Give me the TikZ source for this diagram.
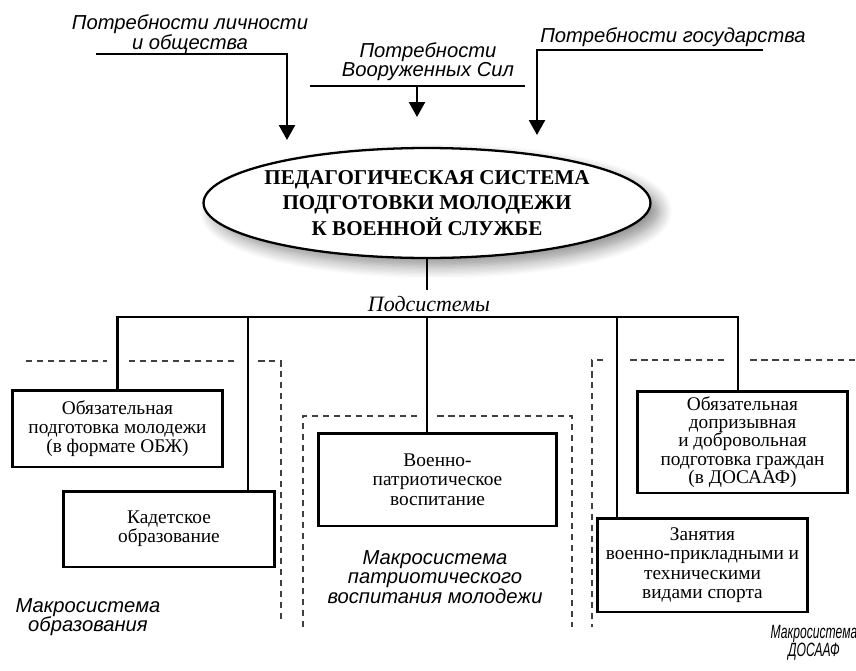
\documentclass[tikz,border=0pt]{standalone}
\usepackage{fontspec}
\setmainfont{Liberation Serif}
\newfontfamily\labelsans{Liberation Sans}
\usetikzlibrary{arrows.meta,shapes.geometric,shadows.blur}

\begin{document}
\begin{tikzpicture}[x=0.02cm,y=-0.02cm,
    conn/.style={line width=1.4pt},
    arr/.style={line width=1.4pt,-{Triangle[width=0.32cm,length=0.3cm]}},
    box/.style={draw,line width=1.7pt,fill=white,align=center,inner sep=2pt,
        font=\fontsize{11}{11}\selectfont},
    dashline/.style={line width=0.7pt,black!75,dash pattern=on 0.13cm off 0.09cm},
    need/.style={align=center,font=\labelsans\itshape\fontsize{11.5}{11}\selectfont},
    macro/.style={need}]
    \useasboundingbox (0,0) rectangle (856,670);

    \node[need] (needL) at (190,34) {Потребности личности\\и общества};
    \node[need] (needM) at (428,62) {Потребности\\Вооруженных Сил};
    \node[need] (needR) at (673,37) {Потребности государства};
    \coordinate (lA) at (96,54);
    \coordinate (lB) at (287,140);
    \coordinate (mA) at (310,86);
    \coordinate (mB) at (525,86);
    \coordinate (mC) at (417,86);
    \coordinate (mD) at (417,117);
    \coordinate (rA) at (763,50);
    \coordinate (rB) at (537,135);
    \draw[arr] (lA) -| (lB);
    \draw[conn] (mA) -- (mB);
    \draw[arr] (mC) -- (mD);
    \draw[arr] (rA) -| (rB);

    \node[ellipse,draw,line width=1.3pt,fill=white,inner xsep=-0.15cm,inner ysep=0pt,
        minimum width=8.94cm,minimum height=2.2cm,align=center,
        font=\bfseries\fontsize{12}{14.3}\selectfont,
        blur shadow={shadow xshift=0.18cm,shadow yshift=-0.16cm,shadow blur radius=0.25cm,
            shadow opacity=45,shadow blur steps=10}]
        (sys) at (427,203) {ПЕДАГОГИЧЕСКАЯ СИСТЕМА\\ПОДГОТОВКИ МОЛОДЕЖИ\\К ВОЕННОЙ СЛУЖБЕ};
    \node[font=\itshape\fontsize{12.5}{12}\selectfont] (sub) at (429,304) {Подсистемы};
    \draw[conn] (sys.south) -- (sys.south |- sub.north);

    \draw[dashline] (26,361) -- (107,361);
    \draw[dashline] (129,361) -- (238,361);
    \draw[dashline] (258,361) -- (281,361) -- (281,620);
    \draw[dashline] (303,627) -- (303,416) -- (417,416);
    \draw[dashline] (437,416) -- (572,416) -- (572,627);
    \draw[dashline] (603,360) -- (592,360) -- (592,627);
    \draw[dashline] (630,360) -- (728,360);
    \draw[dashline] (750,360) -- (856,360);

    \node[box,minimum width=4.22cm,minimum height=1.54cm] (b1) at (117.5,428.5)
        {Обязательная\\подготовка молодежи\\(в формате ОБЖ)};
    \node[box,minimum width=4.24cm,minimum height=1.52cm] (b2) at (169,529)
        {Кадетское\\образование};
    \node[box,minimum width=4.78cm,minimum height=1.86cm] (b3) at (437.5,479.5)
        {Военно-\\патриотическое\\воспитание};
    \node[box,minimum width=4.22cm,minimum height=2.04cm,
        font=\fontsize{11}{10.4}\selectfont] (b4) at (742.5,442)
        {Обязательная\\допризывная\\и добровольная\\подготовка граждан\\(в ДОСААФ)};
    \node[box,minimum width=4.22cm,minimum height=1.88cm] (b5) at (702.5,565)
        {Занятия\\военно-прикладными и\\техническими\\видами спорта};

    \coordinate (bus) at (427,317);
    \coordinate (busR) at (738,317);
    \coordinate (k2) at (248,317);
    \coordinate (k5) at (617,317);
    \draw[conn] (b1.north) |- (busR) -- (busR |- b4.north);
    \draw[conn] (k2) -- (k2 |- b2.north);
    \draw[conn] (bus) -- (bus |- b3.north);
    \draw[conn] (k5) -- (k5 |- b5.north);

    \node[macro] (mL) at (88,617) {Макросистема\\образования};
    \node[macro] (mM) at (435,577) {Макросистема\\патриотического\\воспитания молодежи};
    \begin{scope}[shift={(814,643)},xscale=0.6,yscale=0.95]
        \node[macro,transform shape] (mR) at (0,0) {Макросистема\\ДОСААФ};
    \end{scope}
\end{tikzpicture}
\end{document}
